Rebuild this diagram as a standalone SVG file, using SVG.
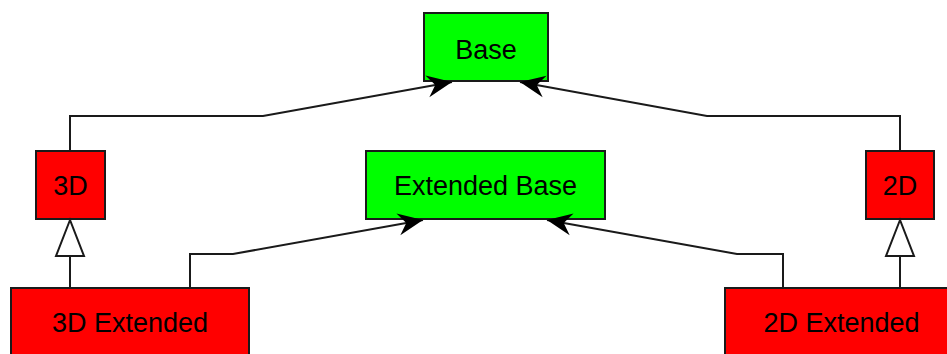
<svg xmlns="http://www.w3.org/2000/svg" width="947" height="354" viewBox="0 0 947 354">
<style>
.red{fill:#ff0000;stroke:#1a1a1a;stroke-width:2}
.green{fill:#00ff00;stroke:#1a1a1a;stroke-width:2}
.lbl{font-family:"Liberation Sans",Arial,sans-serif;font-size:27px;fill:#000;text-anchor:middle}
.edge{fill:none;stroke:#1a1a1a;stroke-width:2}
</style>
<defs>
<marker id="arr" markerUnits="userSpaceOnUse" markerWidth="34" markerHeight="30" viewBox="-30 -15 34 30" refX="0" refY="0" orient="auto">
<path d="M0,0 L-25,-11 L-17,0 L-25,11 Z" fill="#000"/>
</marker>
<marker id="tri" markerUnits="userSpaceOnUse" markerWidth="50" markerHeight="40" viewBox="-40 -20 45 40" refX="0" refY="0" orient="auto">
<path d="M0,0 L-36,-14 L-36,14 Z" fill="#fff" stroke="#1a1a1a" stroke-width="2"/>
</marker>
</defs>
<g id="base"><rect class="green" x="424" y="13" width="124" height="68"/><text class="lbl" x="486" y="59">Base</text></g>
<g id="extended-base"><rect class="green" x="366" y="151" width="239" height="68"/><text class="lbl" x="485.5" y="195">Extended Base</text></g>
<g id="n3d"><rect class="red" x="36" y="151" width="69" height="68"/><text class="lbl" x="70.5" y="195">3D</text></g>
<g id="n2d"><rect class="red" x="866" y="151" width="68" height="68"/><text class="lbl" x="900" y="195">2D</text></g>
<g id="n3d-extended"><rect class="red" x="11" y="288" width="238" height="72"/><text class="lbl" x="130" y="332">3D Extended</text></g>
<g id="n2d-extended"><rect class="red" x="725" y="288" width="238" height="72"/><text class="lbl" x="841.5" y="332">2D Extended</text></g>
<g id="connectors">
<polyline class="edge" points="70,151 70,116 263,116 452,82" marker-end="url(#arr)"/>
<polyline class="edge" points="900,151 900,116 707,116 520,82" marker-end="url(#arr)"/>
<polyline class="edge" points="190,288 190,254 233,254 423,220" marker-end="url(#arr)"/>
<polyline class="edge" points="783,288 783,254 737,254 547,220" marker-end="url(#arr)"/>
<polyline class="edge" points="70,288 70,220" marker-end="url(#tri)"/>
<polyline class="edge" points="900,288 900,220" marker-end="url(#tri)"/>
</g>
</svg>
